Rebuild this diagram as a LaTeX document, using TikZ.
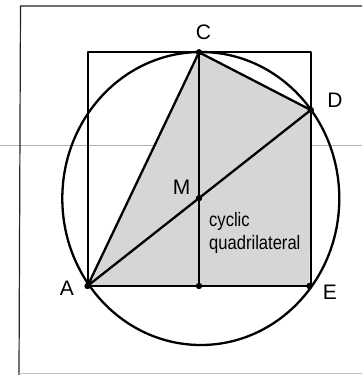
\documentclass[tikz,border=0pt]{standalone}
\usepackage{fontspec}
\setmainfont{Liberation Sans}
\newfontfamily\narrowfont[FakeStretch=0.85]{Liberation Sans}
\begin{document}
\begin{tikzpicture}[x=1pt,y=-1pt,
  geom/.style={line width=2.3pt, line join=round},
  ptlabel/.style={inner sep=0pt, font=\fontsize{21}{25}\selectfont},
  dotpt/.style={fill=black},
  shade/.style={fill=black!16}]
\useasboundingbox (0,0) rectangle (362,375);
\fill[white] (0,0) rectangle (362,375);
% frame and scan line
\coordinate (FL1) at (362,6);
\coordinate (FL2) at (20.5,6);
\coordinate (FL3) at (19,375);
\coordinate (FB1) at (19,373.5);
\coordinate (FB2) at (362,373.5);
\coordinate (SL1) at (0,145);
\coordinate (SL2) at (362,145);
\draw[black!30, line width=0.6pt] (SL1) -- (SL2);
\draw[black!85, line width=1.2pt] (FL1) -- (FL2) -- (FL3);
\draw[black!25, line width=1pt] (FB1) -- (FB2);
% points
\coordinate (A) at (87.5,286);
\coordinate (C) at (199,52.3);
\coordinate (D) at (310.8,110);
\coordinate (E) at (309.5,286);
\coordinate (F) at (199,286);
\coordinate (M) at (intersection of A--D and C--F);
\coordinate (R1) at (88,52.3);
\coordinate (R2) at (311,286);
\coordinate (O) at (200.8,198.5);
% shaded quadrilateral
\fill[shade] (A) -- (C) -- (D) -- (E) -- cycle;
% square and circle
\draw[geom] (R1) rectangle (R2);
\draw[geom] (O) ellipse [x radius=138.5pt, y radius=146.5pt];
% segments
\draw[geom] (A) -- (C) -- (D) -- (A);
\draw[geom] (C) -- (F);
\draw[geom] (A) -- (E);
% dots
\foreach \p in {A,C,D,E,F,M} \fill[dotpt] (\p) circle[radius=3.2pt];
% labels
\node[ptlabel] (lC) at (203.5,32) {C};
\node[ptlabel] (lD) at (335,100) {D};
\node[ptlabel] (lM) at (181.5,187) {M};
\node[ptlabel] (lA) at (67,288.5) {A};
\node[ptlabel] (lE) at (330,292.5) {E};
\node[inner sep=0pt, anchor=north west, align=left,
      font=\narrowfont\fontsize{19.5}{23}\selectfont] (lq) at (209,212.2) {cyclic\\quadrilateral};
\end{tikzpicture}
\end{document}
